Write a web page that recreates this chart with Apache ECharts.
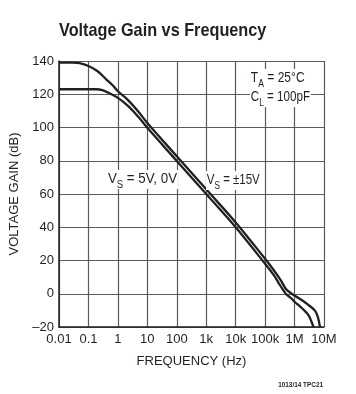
<!DOCTYPE html>
<html>
<head>
<meta charset="utf-8">
<script src="https://cdn.jsdelivr.net/npm/echarts@6/dist/echarts.min.js"></script>
<style>
html,body{margin:0;padding:0;background:#fff;}
#chart{width:356px;height:394px;}
</style>
</head>
<body>
<div id="chart"></div>
<script>
// ---- data ----
var tickLabels = ['0.01', '0.1', '1', '10', '100', '1k', '10k', '100k', '1M', '10M'];

// VS = ±15V (upper / right curve)
var freq15 = [0.01, 0.03, 0.05, 0.1, 0.2, 0.4, 0.7, 1, 2.2, 5, 10, 100, 1000, 10000, 100000, 200000, 350000, 500000, 650000, 800000, 1200000, 2000000, 3000000, 5000000, 6300000, 7300000];
var gain15 = [139, 139, 138.7, 137, 134, 129, 125, 121.8, 116.5, 109.5, 102.7, 82.7, 62.8, 42.9, 21, 14, 7.8, 3, 1.2, 0, -2, -4.5, -6.8, -10.3, -14.5, -20];

// VS = 5V, 0V (lower / left curve)
var freq5 = [0.01, 0.1, 0.18, 0.3, 0.46, 1, 2.2, 5, 10, 100, 1000, 10000, 100000, 200000, 300000, 400000, 500000, 600000, 800000, 1000000, 1500000, 2000000, 3000000, 3700000, 4400000];
var gain5 = [123, 123, 123, 122.5, 121, 117.8, 113, 106.3, 99.8, 79.9, 60, 40, 18, 11, 6, 2.5, 0, -1.2, -3, -4.8, -7.5, -9.5, -13, -16.5, -20];

var yMin = -20, yMax = 140, yStep = 20;

function pairs(xs, ys) { return xs.map(function (x, i) { return [x, ys[i]]; }); }

var FONT = "'Liberation Sans', Arial, sans-serif";
var INK = '#231f20';

var chart = echarts.init(document.getElementById('chart'), null, {renderer: 'canvas'});

var rich = {
  n: {fontSize: 14, fontFamily: FONT, color: INK, lineHeight: 16, verticalAlign: 'bottom'},
  s: {fontSize: 10, fontFamily: FONT, color: INK, lineHeight: 12, verticalAlign: 'bottom', padding: [0, 0, -4, 0]}
};

// annotation text, horizontally condensed to mimic the narrow typeface
function label(txt, x, y, sx) {
  return {
    type: 'text', x: x, y: y, scaleX: sx, z: 100,
    style: {text: txt, rich: rich, backgroundColor: '#fff', padding: [0, 1, 3, 1], fill: INK, font: '14px ' + FONT}
  };
}

chart.setOption({
  animation: false,
  backgroundColor: '#fff',
  grid: {left: 59, right: 32, top: 61, bottom: 67, containLabel: false},
  xAxis: {
    type: 'log', logBase: 10, min: 0.01, max: 1e7, interval: 1,
    name: 'FREQUENCY (Hz)', nameLocation: 'middle', nameGap: 28,
    nameTextStyle: {fontFamily: FONT, fontSize: 13, color: INK},
    axisLine: {onZero: false, lineStyle: {color: INK, width: 1.5}},
    axisTick: {show: false},
    axisLabel: {
      fontFamily: FONT, fontSize: 13, color: INK, margin: 6, interval: 0, hideOverlap: false,
      formatter: function (v) { var i = Math.round(Math.log10(v)) + 2; return tickLabels[i] || ''; }
    },
    splitLine: {show: true, lineStyle: {color: '#5a5a5a', width: 1.2}},
    minorTick: {show: false}
  },
  yAxis: {
    type: 'value', min: yMin, max: yMax, interval: yStep,
    name: 'VOLTAGE GAIN (dB)', nameLocation: 'middle', nameGap: 31,
    nameTextStyle: {fontFamily: FONT, fontSize: 13, color: INK},
    axisLine: {show: true, onZero: false, lineStyle: {color: INK, width: 1.5}},
    axisTick: {show: false},
    axisLabel: {
      fontFamily: FONT, fontSize: 13, color: INK, margin: 5,
      formatter: function (v) { return v < 0 ? '\u2013' + Math.abs(v) : String(v); }
    },
    splitLine: {show: true, lineStyle: {color: '#5a5a5a', width: 1.2}}
  },
  graphic: [
    {type: 'text', x: 59, y: 31, scaleX: 0.855,
      style: {text: 'Voltage Gain vs Frequency', font: 'bold 19px ' + FONT, fill: INK, verticalAlign: 'middle', align: 'left'}},
    label('{n|T}{s|A}{n| = 25°C}', 250, 69, 0.86),
    label('{n|C}{s|L}{n| = 100pF}', 250, 88, 0.83),
    label('{n|V}{s|S}{n| = 5V, 0V}', 107, 170, 0.95),
    label('{n|V}{s|S}{n| = ±15V}', 206, 171, 0.82),
    {type: 'text', x: 323, y: 385, scaleX: 0.8,
      style: {text: '1013/14 TPC21', font: 'bold 8px ' + FONT, fill: INK, align: 'right', verticalAlign: 'middle'}}
  ],
  series: [
    {type: 'line', data: pairs(freq15, gain15), showSymbol: false, smooth: 0.35, lineStyle: {color: INK, width: 2.3}, z: 5},
    {type: 'line', data: pairs(freq5, gain5), showSymbol: false, smooth: 0.35, lineStyle: {color: INK, width: 2.3}, z: 5}
  ]
});
</script>
</body>
</html>
